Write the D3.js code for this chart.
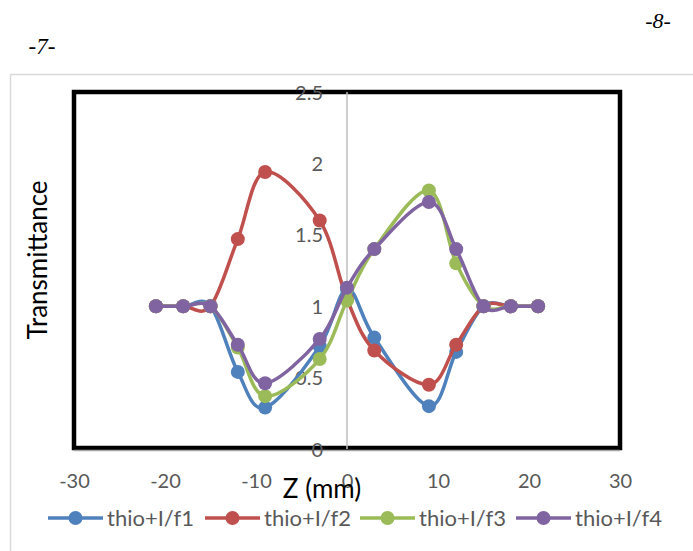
<!DOCTYPE html>
<html>
<head>
<meta charset="utf-8">
<script src="https://cdn.jsdelivr.net/npm/d3@7"></script>
<style>
  html, body { margin: 0; padding: 0; background: #fff; }
  svg { display: block; }
</style>
</head>
<body>
<svg id="chart" width="693" height="551"></svg>
<script>
// ---- data ----
const zValues = [-21, -18, -15, -12, -9, -3, 0, 3, 9, 12, 15, 18, 21];
const seriesNames = ["thio+I/f1", "thio+I/f2", "thio+I/f3", "thio+I/f4"];
const f1 = [1, 1, 1, 0.54, 0.29, 0.72, 1.12, 0.78, 0.30, 0.68, 1, 1, 1];
const f2 = [1, 1, 1, 1.47, 1.94, 1.60, 1.05, 0.69, 0.45, 0.73, 1, 1, 1];
const f3 = [1, 1, 1, 0.71, 0.37, 0.63, 1.04, 1.40, 1.81, 1.30, 1, 1, 1];
const f4 = [1, 1, 1, 0.73, 0.46, 0.77, 1.13, 1.40, 1.73, 1.40, 1, 1, 1];
const xTicks = [-30, -20, -10, 0, 10, 20, 30];
const yTicks = [0, 0.5, 1, 1.5, 2, 2.5];
const colors = ["#4F81BD", "#C0504D", "#9BBB59", "#8064A2"];

const seriesValues = [f1, f2, f3, f4];
const series = seriesNames.map((name, i) => ({
  name, color: colors[i],
  points: zValues.map((z, j) => ({ z, v: seriesValues[i][j] }))
}));

const svg = d3.select("#chart");
const FONT = "Lato, 'Open Sans', sans-serif";

// page texts
svg.append("text").attr("x", 658).attr("y", 28).attr("text-anchor", "middle")
  .attr("font-family", "'Liberation Serif', serif").attr("font-style", "italic")
  .attr("font-size", 22).attr("fill", "#000").text("-8-");
svg.append("text").attr("x", 42).attr("y", 54).attr("text-anchor", "middle")
  .attr("font-family", "'Liberation Serif', serif").attr("font-style", "italic")
  .attr("font-size", 23).attr("fill", "#000").text("-7-");

// chart border
svg.append("rect").attr("x", 10.5).attr("y", 74.5).attr("width", 700).attr("height", 490)
  .attr("fill", "#fff").attr("stroke", "#D9D9D9").attr("stroke-width", 1.5);

const x = d3.scaleLinear().domain([-30, 30]).range([74, 620]);
const y = d3.scaleLinear().domain([0, 2.5]).range([449, 92]);

// plot frame
svg.append("rect").attr("x", x(-30)).attr("y", y(2.5)).attr("width", x(30) - x(-30))
  .attr("height", 448 - y(2.5)).attr("fill", "none").attr("stroke", "#000").attr("stroke-width", 4.5);

// axis lines
svg.append("line").attr("x1", x(0)).attr("x2", x(0)).attr("y1", y(2.5)).attr("y2", y(0))
  .attr("stroke", "#BFBFBF").attr("stroke-width", 1.5);
svg.append("line").attr("x1", x(-30)).attr("x2", x(30)).attr("y1", 450.5).attr("y2", 450.5)
  .attr("stroke", "#A6A6A6").attr("stroke-width", 1.5);

// x tick labels
const xAxis = svg.append("g").attr("transform", "translate(0,450)")
  .call(d3.axisBottom(x).tickValues(xTicks).tickSize(0).tickFormat(d => String(d)));
xAxis.select(".domain").remove();
xAxis.selectAll("text").attr("y", 31).attr("dy", "0.35em")
  .attr("font-family", FONT).attr("font-size", 20).attr("fill", "#595959");

// y tick labels
const yAxis = svg.append("g").attr("transform", `translate(${x(0)},0)`)
  .call(d3.axisLeft(y).tickValues(yTicks).tickSize(0).tickFormat(d => String(d)));
yAxis.select(".domain").remove();
yAxis.selectAll("text").attr("x", -24).attr("dy", "0.35em")
  .attr("font-family", FONT).attr("font-size", 20).attr("fill", "#595959");

// series
const line = d3.line().x(d => x(d.z)).y(d => y(d.v)).curve(d3.curveCardinal.tension(0));
const g = svg.append("g");
series.forEach(s => {
  g.append("path").attr("d", line(s.points)).attr("fill", "none")
    .attr("stroke", s.color).attr("stroke-width", 3.5).attr("stroke-linejoin", "round");
  g.selectAll(null).data(s.points).enter().append("circle")
    .attr("cx", d => x(d.z)).attr("cy", d => y(d.v)).attr("r", 7).attr("fill", s.color);
});

// axis titles
svg.append("text").attr("transform", "translate(47,260) rotate(-90)")
  .attr("text-anchor", "middle").attr("font-family", FONT).attr("font-size", 26)
  .attr("fill", "#000").text("Transmittance");
svg.append("text").attr("x", 322).attr("y", 489).attr("dy", "0.35em")
  .attr("text-anchor", "middle").attr("font-family", FONT).attr("font-size", 26)
  .attr("fill", "#000").text("Z (mm)");

// legend
const legendStarts = [48, 205, 360, 516];
const lg = svg.append("g");
series.forEach((s, i) => {
  const x0 = legendStarts[i];
  lg.append("line").attr("x1", x0).attr("x2", x0 + 55).attr("y1", 518).attr("y2", 518)
    .attr("stroke", s.color).attr("stroke-width", 3.5);
  lg.append("circle").attr("cx", x0 + 27.5).attr("cy", 518).attr("r", 7).attr("fill", s.color);
  lg.append("text").attr("x", x0 + 59).attr("y", 518).attr("dy", "0.35em")
    .attr("font-family", FONT).attr("font-size", 22).attr("fill", "#595959").text(s.name);
});
</script>
</body>
</html>
